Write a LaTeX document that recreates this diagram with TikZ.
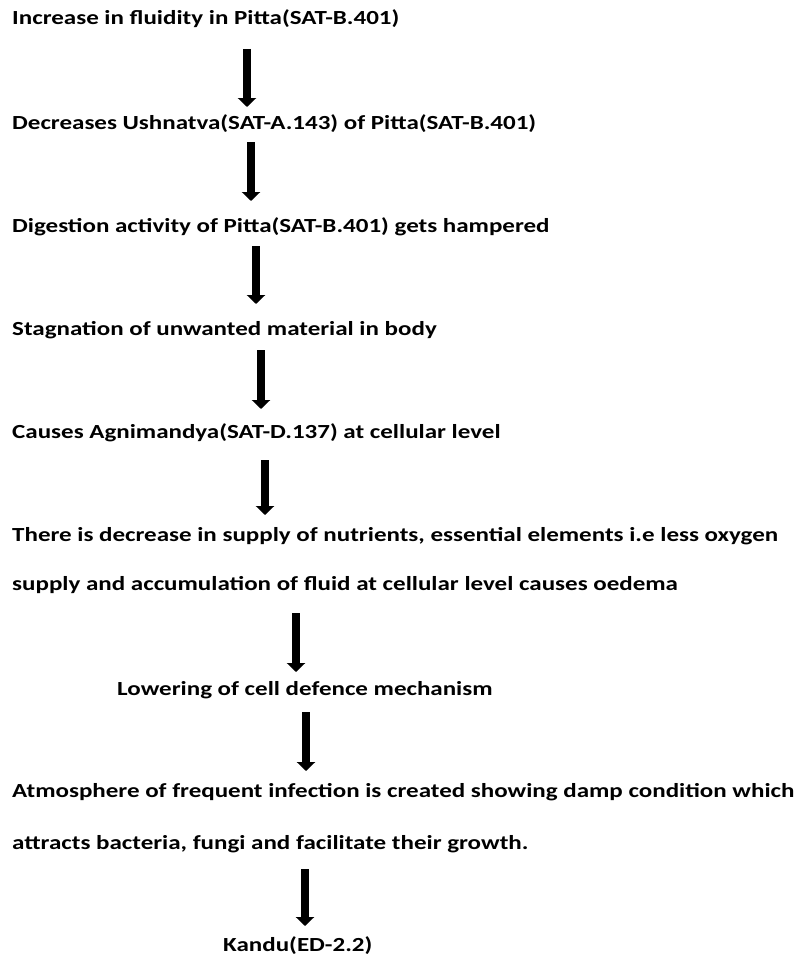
\documentclass[tikz,border=0pt]{standalone}
\usepackage{fontspec}
\setmainfont{Carlito}[FakeStretch=1.25]
\usetikzlibrary{arrows.meta}
\tikzset{
  txt/.style={anchor=base west, inner sep=0pt, font=\bfseries\fontsize{20}{22}\selectfont},
  bigarrow/.style={line width=8pt, -{Triangle[width=18pt,length=9pt]}}
}
\begin{document}
\begin{tikzpicture}[x=1pt,y=-1pt]
\useasboundingbox (0,0) rectangle (798,958);
\node[txt] (t1) at (12,25) {Increase in fluidity in Pitta(SAT-B.401)};
\node[txt] (t2) at (12,129) {Decreases Ushnatva(SAT-A.143) of Pitta(SAT-B.401)};
\node[txt] (t3) at (12,232) {Digestion activity of Pitta(SAT-B.401) gets hampered};
\node[txt] (t4) at (12,335) {Stagnation of unwanted material in body};
\node[txt] (t5) at (12,438) {Causes Agnimandya(SAT-D.137) at cellular level};
\node[txt] (t6) at (12,541) {There is decrease in supply of nutrients, essential elements i.e less oxygen};
\node[txt] (t7) at (12,590) {supply and accumulation of fluid at cellular level causes oedema};
\node[txt] (t8) at (117,695) {Lowering of cell defence mechanism};
\node[txt] (t9) at (12,797) {Atmosphere of frequent infection is created showing damp condition which};
\node[txt] (t10) at (12,849) {attracts bacteria, fungi and facilitate their growth.};
\node[txt] (t11) at (223,951) {Kandu(ED-2.2)};
\coordinate (a1s) at (247,49);  \coordinate (a1e) at (247,107);
\coordinate (a2s) at (251,142); \coordinate (a2e) at (251,201);
\coordinate (a3s) at (256,246); \coordinate (a3e) at (256,304);
\coordinate (a4s) at (261,350); \coordinate (a4e) at (261,409);
\coordinate (a5s) at (265,460); \coordinate (a5e) at (265,515);
\coordinate (a6s) at (296,613); \coordinate (a6e) at (296,672);
\coordinate (a7s) at (306,712); \coordinate (a7e) at (306,771);
\coordinate (a8s) at (305,869); \coordinate (a8e) at (305,926);
\foreach \i in {1,...,8} {\draw[bigarrow] (a\i s) -- (a\i e);}
\end{tikzpicture}
\end{document}
